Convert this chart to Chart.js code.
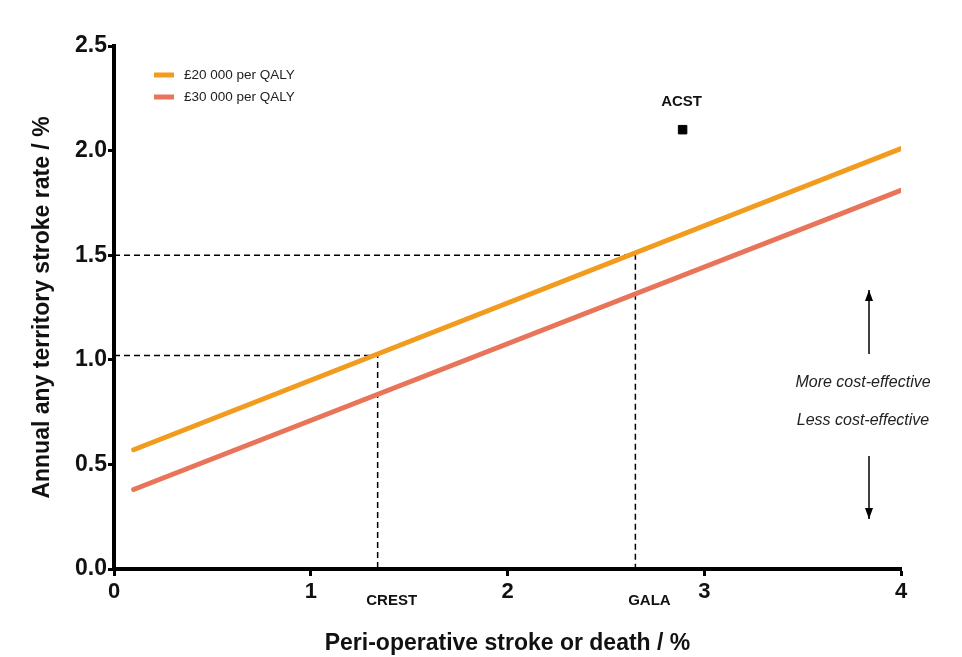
<!DOCTYPE html>
<html>
<head>
<meta charset="utf-8">
<script src="https://cdn.jsdelivr.net/npm/chart.js@4.4.1/dist/chart.umd.min.js"></script>
<style>
  html, body { margin: 0; padding: 0; background: #fff; }
  #wrap { width: 962px; height: 657px; }
</style>
</head>
<body>
<div id="wrap"><canvas id="grafico" width="962" height="657"></canvas></div>
<script>
// dados
const xRange = [0.1, 4];
const rate20k = [0.57, 2.01];
const rate30k = [0.38, 1.81];
const seriesNames = ['£20 000 per QALY', '£30 000 per QALY'];
const trials = ['CREST', 'GALA'];
const trialRisk = [1.34, 2.65];
const trialThreshold = [1.02, 1.5];
const acstName = 'ACST';
const acstRisk = [2.89];
const acstRate = [2.10];

const corLaranja = '#f29c1f';
const corVermelha = '#e8755a';
const fonte = '"Liberation Sans", Arial, sans-serif';

function linha(ys) {
  return xRange.map((x, i) => ({ x: x, y: ys[i] }));
}

const tracejadas = trials.map((t, i) => ({
  label: t,
  data: [
    { x: 0, y: trialThreshold[i] },
    { x: trialRisk[i], y: trialThreshold[i] },
    { x: trialRisk[i], y: 0 }
  ],
  borderColor: '#000',
  borderWidth: 1.5,
  borderDash: [6, 4],
  pointRadius: 0,
  fill: false
}));

// legenda, rótulos e setas desenhados à mão
const extras = {
  id: 'extras',
  afterDatasetsDraw(chart) {
    const { ctx, chartArea, scales } = chart;
    const x = scales.x, y = scales.y;
    ctx.save();

    // legenda
    const lx = chartArea.left + 40, ly = chartArea.top + 29;
    [corLaranja, corVermelha].forEach((c, i) => {
      ctx.fillStyle = c;
      ctx.fillRect(lx, ly + i * 22 - 2.5, 20, 5);
      ctx.fillStyle = '#222';
      ctx.font = '13.5px ' + fonte;
      ctx.textBaseline = 'middle';
      ctx.textAlign = 'left';
      ctx.fillText(seriesNames[i], lx + 30, ly + i * 22);
    });

    // nomes dos estudos
    ctx.fillStyle = '#111';
    ctx.font = 'bold 15px ' + fonte;
    ctx.textAlign = 'center';
    ctx.textBaseline = 'middle';
    trials.forEach((t, i) => {
      ctx.fillText(t, x.getPixelForValue(trialRisk[i]) + 14, chartArea.bottom + 32);
    });

    // ACST
    ctx.font = 'bold 15px ' + fonte;
    ctx.fillText(acstName, x.getPixelForValue(acstRisk[0]) - 1, y.getPixelForValue(acstRate[0]) - 28);

    // setas
    const ax = chartArea.right - 32;
    ctx.strokeStyle = '#000';
    ctx.fillStyle = '#000';
    ctx.lineWidth = 1.5;
    function seta(y1, y2) {
      ctx.beginPath();
      ctx.moveTo(ax, y1);
      ctx.lineTo(ax, y2);
      ctx.stroke();
      const d = y2 < y1 ? 1 : -1;
      ctx.beginPath();
      ctx.moveTo(ax, y2);
      ctx.lineTo(ax - 4, y2 + d * 11);
      ctx.lineTo(ax + 4, y2 + d * 11);
      ctx.closePath();
      ctx.fill();
    }
    seta(354, 290);
    seta(456, 519);

    ctx.font = 'italic 16px ' + fonte;
    ctx.fillStyle = '#222';
    ctx.fillText('More cost-effective', ax - 6, 383);
    ctx.fillText('Less cost-effective', ax - 6, 421);
    ctx.restore();
  }
};

const ctx = document.getElementById('grafico').getContext('2d');
new Chart(ctx, {
  type: 'line',
  data: {
    datasets: [
      {
        label: seriesNames[0],
        data: linha(rate20k),
        borderColor: corLaranja,
        borderWidth: 5,
        borderCapStyle: 'round',
        pointRadius: 0
      },
      {
        label: seriesNames[1],
        data: linha(rate30k),
        borderColor: corVermelha,
        borderWidth: 5,
        borderCapStyle: 'round',
        pointRadius: 0
      },
      ...tracejadas,
      {
        label: acstName,
        type: 'scatter',
        data: acstRisk.map((v, i) => ({ x: v, y: acstRate[i] })),
        pointStyle: 'rect',
        pointRadius: 6,
        backgroundColor: '#000',
        borderColor: '#000'
      }
    ]
  },
  options: {
    responsive: false,
    animation: false,
    layout: { padding: { top: 46, right: 61, left: 25, bottom: 0 } },
    plugins: {
      legend: { display: false },
      tooltip: { enabled: false }
    },
    scales: {
      x: {
        type: 'linear',
        min: 0,
        max: 4,
        ticks: {
          stepSize: 1,
          color: '#111',
          font: { family: fonte, size: 22, weight: 'bold' },
          padding: 3
        },
        grid: { drawOnChartArea: false, drawTicks: true, tickLength: 7, tickWidth: 3, color: '#000' },
        border: { width: 4, color: '#000' },
        title: {
          display: true,
          text: 'Peri-operative stroke or death / %',
          color: '#111',
          font: { family: fonte, size: 23, weight: 'bold' },
          padding: { top: 4, bottom: 0 }
        },
        afterFit(s) { s.height = 88; }
      },
      y: {
        min: 0,
        max: 2.5,
        ticks: {
          stepSize: 0.5,
          color: '#111',
          font: { family: fonte, size: 23, weight: 'bold' },
          padding: 1,
          callback: v => v.toFixed(1)
        },
        grid: { drawOnChartArea: false, drawTicks: true, tickLength: 6, tickWidth: 3, color: '#000' },
        border: { width: 4, color: '#000' },
        title: {
          display: true,
          text: 'Annual any territory stroke rate / %',
          color: '#111',
          font: { family: fonte, size: 23, weight: 'bold' }
        },
        afterFit(s) { s.width = 89; }
      }
    }
  },
  plugins: [extras]
});
</script>
</body>
</html>
